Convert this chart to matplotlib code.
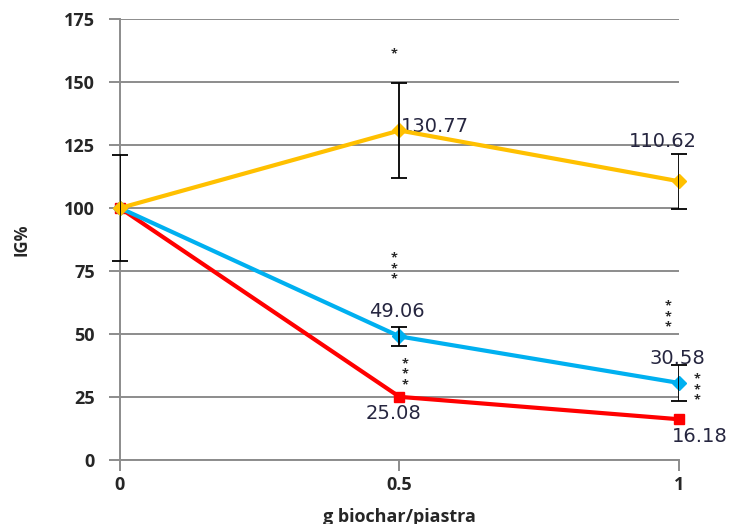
import matplotlib.pyplot as plt

# dose of biochar per plate
dose = [0, 0.5, 1]

ig_yellow = [100, 130.77, 110.62]
ig_blue = [100, 49.06, 30.58]
ig_red = [100, 25.08, 16.18]

err_yellow = [21, 19, 11]
err_blue = [0, 3.8, 7]

plt.rcParams['font.family'] = ['Open Sans', 'DejaVu Sans']

fig = plt.figure(figsize=(7.33, 5.24), dpi=100)
ax = fig.add_axes([0.1637, 0.1221, 0.7626, 0.8416])

ax.plot(dose, ig_red, color="#ff0000", lw=3, marker="s", ms=7, zorder=3)
ax.plot(dose, ig_blue, color="#00b0f0", lw=3, marker="D", ms=7, zorder=3)
ax.plot(dose, ig_yellow, color="#ffc000", lw=3, marker="D", ms=7, zorder=4)

ax.errorbar(dose, ig_yellow, yerr=err_yellow, fmt="none", ecolor="black",
            elinewidth=1.3, capsize=6, capthick=1.3, zorder=5)
ax.errorbar(dose[1:], ig_blue[1:], yerr=err_blue[1:], fmt="none", ecolor="black",
            elinewidth=1.3, capsize=6, capthick=1.3, zorder=5)

ax.set_xlim(0, 1)
ax.set_ylim(0, 175)
ax.set_xticks(dose)
ax.set_xticklabels(["0", "0.5", "1"])
ax.set_yticks(range(0, 176, 25))
ax.grid(axis="y", color="#8c8c8c", lw=1.4)
ax.set_axisbelow(True)
for s in ["top", "right"]:
    ax.spines[s].set_visible(False)
for s in ["left", "bottom"]:
    ax.spines[s].set_color("#8c8c8c")
    ax.spines[s].set_linewidth(1.4)
ax.tick_params(length=8, width=1.4, color="#8c8c8c", labelsize=13,
               labelcolor="#262626")
ax.tick_params(axis="y", pad=10)
for lab in ax.get_xticklabels() + ax.get_yticklabels():
    lab.set_fontweight("bold")
for line in ax.lines:
    line.set_clip_on(False)

ax.set_ylabel("IG%", fontsize=12, fontweight="bold", color="#262626", labelpad=24)
ax.set_xlabel("g biochar/piastra", fontsize=13, fontweight="bold", color="#262626",
              labelpad=10)

# value labels
lab_kw = dict(fontsize=14, color="#262640", family="DejaVu Sans")
ax.text(0.502, ig_yellow[1] - 2, f"{ig_yellow[1]:.2f}", ha="left", va="bottom", **lab_kw)
ax.text(0.972, ig_yellow[2] + 12, f"{ig_yellow[2]:.2f}", ha="center", va="bottom", **lab_kw)
ax.text(0.495, ig_blue[1] + 6, f"{ig_blue[1]:.2f}", ha="center", va="bottom", **lab_kw)
ax.text(0.998, ig_blue[2] + 6, f"{ig_blue[2]:.2f}", ha="center", va="bottom", **lab_kw)
ax.text(0.49, ig_red[1] - 3, f"{ig_red[1]:.2f}", ha="center", va="top", **lab_kw)
ax.text(1.038, ig_red[2] - 3, f"{ig_red[2]:.2f}", ha="center", va="top", **lab_kw)

# significance marks
star_kw = dict(fontsize=9, color="#262626", ha="center", va="center",
               linespacing=0.75, fontweight="bold")
ax.text(0.49, 161, "*", **star_kw)
ax.text(0.49, 76, "*\n*\n*", **star_kw)
ax.text(0.51, 34, "*\n*\n*", **star_kw)
ax.text(0.98, 57, "*\n*\n*", **star_kw)
ax.text(1.032, 28, "*\n*\n*", **star_kw)

fig.savefig("out.png", dpi=100)
